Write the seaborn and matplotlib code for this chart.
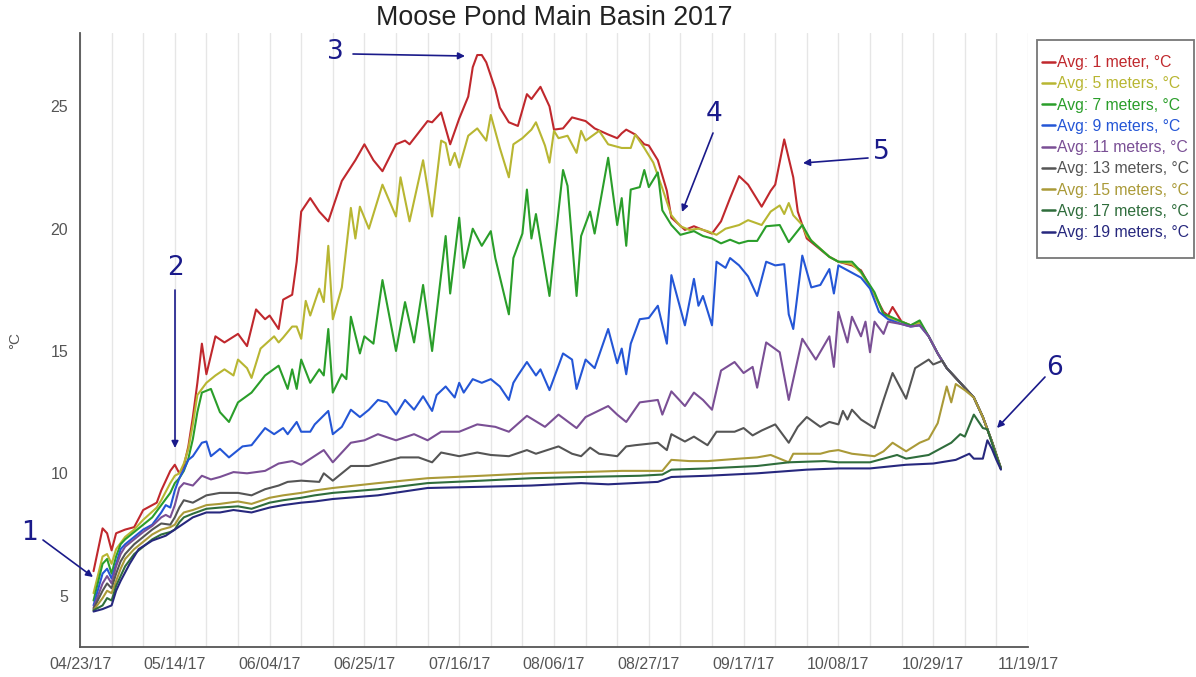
import pandas as pd
import numpy as np
import matplotlib
matplotlib.use("Agg")
import matplotlib.pyplot as plt
from matplotlib.lines import Line2D
from matplotlib.patches import Rectangle
import matplotlib.dates as mdates
import seaborn as sns

start = pd.Timestamp("2017-04-23")

# days after 04/23/17 and daily average temperature (°C) for each depth
d1 = [3,5,6,7,8,10,12,14,17,18,20,21,22,23,24,25,26,27,28,30,32,35,37,39,41,42,44,45,47,48,49,51,53,55,58,61,63,65,67,70,72,73,77,78,80,82,84,86,87,88,89,90,92,93,95,97,99,100,102,104,105,107,109,112,114,117,119,120,121,123,125,126,128,130,131,134,136,138,140,142,144,146,148,151,153,154,156,158,159,161,163,166,168,171,173,176,178,179,180,182,184,186,188,190,192,195,198,200,202,204]
t1 = [6.0,7.75,7.55,6.85,7.55,7.7,7.8,8.5,8.8,9.3,10.1,10.35,10.0,10.3,11.1,12.3,13.7,15.3,14.05,15.6,15.35,15.7,15.2,16.7,16.3,16.45,15.9,17.1,17.3,18.65,20.7,21.25,20.7,20.3,21.95,22.8,23.45,22.8,22.35,23.45,23.6,23.45,24.4,24.35,24.75,23.45,24.5,25.4,26.6,27.1,27.1,26.8,25.7,24.95,24.35,24.2,25.5,25.3,25.8,25.0,24.05,24.1,24.55,24.4,24.1,23.85,23.7,23.9,24.05,23.85,23.45,23.4,22.8,21.55,20.45,19.95,20.1,19.95,19.8,20.3,21.25,22.15,21.8,20.9,21.55,21.8,23.65,22.1,20.7,19.6,19.3,18.85,18.65,18.5,18.3,17.3,16.6,16.45,16.8,16.2,16.05,16.15,15.6,14.9,14.3,13.7,13.1,12.3,11.3,10.2]

d5 = [3,5,6,7,8,10,12,14,17,18,20,21,22,23,24,25,26,27,28,30,32,34,35,37,38,40,43,44,45,47,48,49,50,51,53,54,55,56,58,60,61,62,64,67,70,71,73,76,78,80,81,82,83,84,86,88,90,91,93,95,96,98,100,101,103,104,105,106,108,110,111,112,115,117,120,122,123,125,127,129,131,133,135,137,139,141,143,146,148,151,153,155,156,157,158,160,161,163,166,168,171,173,176,178,179,180,182,184,186,188,190,192,195,198,200,202,204]
t5 = [5.1,6.6,6.7,6.3,6.9,7.4,7.7,8.1,8.6,8.9,9.6,9.9,10.0,10.4,11.0,12.0,13.2,13.45,13.7,14.0,14.25,14.0,14.65,14.3,13.9,15.1,15.6,15.35,15.55,16.0,16.0,15.5,17.05,16.45,17.55,17.0,19.3,16.3,17.6,20.85,19.6,20.9,20.0,21.8,20.5,22.1,20.3,22.8,20.5,23.6,23.5,22.6,23.1,22.5,23.8,24.1,23.6,24.65,23.3,22.1,23.45,23.7,24.05,24.35,23.4,22.7,24.0,23.7,23.8,23.1,24.0,23.6,24.0,23.45,23.3,23.3,23.85,23.3,22.7,21.65,20.55,20.1,19.95,20.0,19.9,19.75,20.0,20.15,20.35,20.15,20.7,20.95,20.6,21.05,20.55,20.15,19.7,19.35,18.85,18.65,18.55,18.2,17.3,16.5,16.4,16.3,16.2,16.05,16.15,15.6,14.9,14.3,13.7,13.1,12.3,11.3,10.2]

d7 = [3,5,6,7,8,9,10,12,14,16,18,20,21,22,23,24,25,26,27,29,31,33,35,38,41,44,46,47,48,49,51,53,54,55,56,58,59,60,62,63,65,67,70,72,74,76,78,81,82,84,85,87,89,91,92,95,96,98,99,100,101,104,105,107,108,110,111,113,114,117,119,120,121,122,124,125,126,128,129,131,133,136,138,140,142,144,146,148,150,152,155,157,160,162,166,168,171,173,176,178,179,182,184,186,188,190,192,195,198,200,202,204]
t7 = [4.8,6.3,6.5,5.9,6.6,7.1,7.3,7.6,7.9,8.2,8.7,9.2,9.6,9.8,10.1,10.6,11.4,12.5,13.3,13.45,12.5,12.1,12.9,13.3,14.0,14.4,13.45,14.25,13.45,14.65,13.7,14.25,14.0,15.9,13.3,14.05,13.85,16.4,14.9,15.6,15.3,17.9,15.0,17.0,15.35,17.7,15.0,19.7,17.35,20.45,18.4,20.0,19.3,19.9,18.8,16.5,18.8,19.8,21.6,19.6,20.6,17.25,19.05,22.4,21.75,17.25,19.7,20.7,19.8,22.9,20.15,21.25,19.3,21.6,21.7,22.4,21.7,22.3,20.75,20.15,19.75,19.9,19.7,19.6,19.4,19.55,19.4,19.5,19.5,20.1,20.15,19.45,20.15,19.5,18.85,18.65,18.65,18.25,17.4,16.5,16.45,16.2,16.05,16.25,15.6,14.9,14.3,13.7,13.1,12.3,11.3,10.2]

d9 = [3,5,6,7,8,9,10,12,14,16,18,19,20,21,22,23,24,25,27,28,29,31,33,36,38,41,43,45,46,48,49,51,52,55,56,58,60,62,64,66,68,70,72,74,76,78,79,81,83,84,85,87,89,91,93,95,96,97,99,101,102,104,105,107,109,110,112,114,117,119,120,121,122,124,126,128,130,131,134,136,137,138,140,141,143,144,146,148,150,152,154,156,157,158,160,162,164,166,167,168,171,173,175,177,179,182,184,186,188,190,192,195,198,200,202,204]
t9 = [4.6,5.9,6.1,5.7,6.3,6.9,7.1,7.4,7.7,7.9,8.4,8.7,8.6,9.3,9.8,10.15,10.55,10.7,11.25,11.3,10.7,11.0,10.65,11.1,11.15,11.85,11.6,11.85,11.6,12.1,11.7,11.7,12.0,12.55,11.6,11.9,12.6,12.3,12.6,13.0,12.9,12.4,13.0,12.6,13.15,12.55,13.2,13.55,13.1,13.7,13.3,13.85,13.7,13.85,13.55,13.0,13.7,14.0,14.55,14.0,14.25,13.4,13.9,14.9,14.65,13.45,14.65,14.3,15.9,14.5,15.1,14.05,15.3,16.3,16.35,16.85,15.3,18.1,16.05,17.95,16.85,17.25,16.05,18.65,18.4,18.8,18.5,18.05,17.25,18.65,18.5,18.55,16.5,15.9,18.9,17.6,17.7,18.35,17.35,18.5,18.2,18.0,17.55,16.6,16.3,16.1,16.0,16.05,15.6,14.9,14.3,13.7,13.1,12.3,11.3,10.2]

d11 = [3,5,6,7,8,9,10,12,14,16,18,19,20,21,22,23,25,27,29,31,34,37,41,44,47,49,54,56,60,63,66,70,74,77,80,84,88,92,95,99,103,106,110,112,117,119,121,124,128,129,131,134,136,138,140,142,145,147,149,150,152,155,157,160,163,166,167,168,170,171,173,174,175,176,178,179,182,184,186,188,190,192,195,198,200,202,204]
t11 = [4.5,5.5,5.8,5.5,6.2,6.7,7.0,7.3,7.6,7.85,8.2,8.3,8.2,8.7,9.4,9.6,9.5,9.9,9.75,9.85,10.05,10.0,10.1,10.4,10.5,10.35,10.95,10.45,11.25,11.35,11.6,11.35,11.6,11.35,11.7,11.7,12.0,11.9,11.7,12.35,11.9,12.4,11.85,12.3,12.75,12.4,12.1,12.9,13.0,12.4,13.35,12.75,13.3,13.0,12.6,14.2,14.55,14.1,14.35,13.5,15.35,14.95,13.0,15.5,14.65,15.6,14.35,16.6,15.35,16.4,15.6,16.2,14.95,16.2,15.7,16.2,16.1,16.0,16.05,15.6,14.9,14.3,13.7,13.1,12.3,11.3,10.2]

d13 = [3,5,6,7,8,9,10,12,14,16,18,20,21,22,23,25,28,31,35,38,41,44,46,49,53,54,56,60,64,67,71,75,78,80,84,88,91,95,99,101,106,109,111,113,115,119,121,123,128,130,131,134,136,139,141,145,147,149,151,154,157,159,161,164,166,168,169,170,171,173,176,178,180,183,185,188,189,191,192,195,198,200,202,204]
t13 = [4.45,5.2,5.5,5.3,5.9,6.4,6.7,7.1,7.4,7.7,7.95,7.9,8.2,8.6,8.9,8.8,9.1,9.2,9.2,9.1,9.35,9.5,9.65,9.7,9.65,10.0,9.7,10.3,10.3,10.45,10.65,10.65,10.45,10.85,10.7,10.85,10.75,10.7,10.95,10.8,11.1,10.8,10.7,11.05,10.8,10.7,11.1,11.15,11.25,10.95,11.6,11.3,11.5,11.15,11.7,11.7,11.85,11.55,11.75,12.0,11.25,11.9,12.3,11.9,12.1,12.0,12.55,12.2,12.6,12.2,11.85,13.0,14.1,13.05,14.3,14.65,14.45,14.6,14.3,13.7,13.1,12.3,11.3,10.2]

d15 = [3,5,6,7,8,9,10,12,14,16,18,20,21,22,23,25,28,31,35,38,42,45,49,52,56,66,77,89,100,111,120,129,131,135,139,146,150,153,157,158,164,166,168,171,176,178,180,183,186,188,190,192,193,194,196,198,200,202,204]
t15 = [4.4,4.9,5.2,5.1,5.6,6.1,6.5,6.9,7.2,7.5,7.7,7.8,7.9,8.2,8.4,8.5,8.7,8.75,8.85,8.75,9.0,9.1,9.2,9.3,9.4,9.6,9.8,9.9,10.0,10.05,10.1,10.1,10.55,10.5,10.5,10.6,10.65,10.75,10.45,10.8,10.8,10.9,10.95,10.8,10.7,10.9,11.25,10.9,11.25,11.4,12.05,13.55,12.9,13.65,13.4,13.1,12.3,11.3,10.2]

d17 = [3,5,6,7,8,9,10,12,14,16,18,20,21,22,23,25,28,31,35,38,42,45,49,52,56,66,77,89,100,111,124,129,131,139,150,157,165,168,175,181,183,188,190,193,195,196,198,200,201,202,203,204]
t17 = [4.4,4.6,4.9,4.8,5.4,5.8,6.2,6.7,7.0,7.3,7.5,7.6,7.7,8.0,8.2,8.35,8.55,8.6,8.65,8.55,8.8,8.9,9.0,9.1,9.2,9.35,9.6,9.7,9.8,9.85,9.9,9.95,10.15,10.2,10.3,10.45,10.5,10.45,10.45,10.75,10.6,10.75,10.95,11.25,11.6,11.5,12.4,11.85,11.8,11.25,10.7,10.2]

d19 = [3,5,7,8,9,11,13,16,19,21,23,25,28,31,34,38,42,45,49,52,56,66,77,89,100,111,117,128,131,139,150,161,168,175,183,189,194,197,198,200,201,202,203,204]
t19 = [4.35,4.45,4.6,5.2,5.6,6.3,6.9,7.25,7.45,7.7,7.95,8.2,8.4,8.4,8.5,8.4,8.6,8.7,8.8,8.85,8.95,9.1,9.4,9.45,9.5,9.6,9.55,9.65,9.85,9.9,10.0,10.15,10.2,10.2,10.35,10.4,10.55,10.8,10.6,10.6,11.35,11.0,10.55,10.15]

labels = ["Avg: 1 meter, °C", "Avg: 5 meters, °C", "Avg: 7 meters, °C",
          "Avg: 9 meters, °C", "Avg: 11 meters, °C", "Avg: 13 meters, °C",
          "Avg: 15 meters, °C", "Avg: 17 meters, °C", "Avg: 19 meters, °C"]
colors = ["#c0282d", "#b8b632", "#2a9e2a", "#2456d6", "#7a4f95",
          "#555555", "#aa9a38", "#2f6d3c", "#27287e"]
series = [(d1, t1), (d5, t5), (d7, t7), (d9, t9), (d11, t11),
          (d13, t13), (d15, t15), (d17, t17), (d19, t19)]

frames = []
for lab, (d, t) in zip(labels, series):
    frames.append(pd.DataFrame({"date": start + pd.to_timedelta(d, unit="D"),
                                "temp": t, "depth": lab}))
df = pd.concat(frames, ignore_index=True)

sns.set_style("white")
plt.rcParams["font.family"] = ["Liberation Sans", "DejaVu Sans"]

W, H = 1196, 677
fig = plt.figure(figsize=(W / 100, H / 100), dpi=100)
ax = fig.add_axes([80 / W, 30 / H, (1028 - 80) / W, (647 - 33) / H])

sns.lineplot(data=df, x="date", y="temp", hue="depth", palette=dict(zip(labels, colors)),
             estimator=None, sort=False, linewidth=1.5, legend=False, ax=ax)

weeks = pd.date_range("2017-04-23", "2017-11-19", freq="7D")
ax.set_xlim(weeks[0], weeks[-1])
ax.set_xticks(weeks[::3])
ax.set_xticks(weeks, minor=True)
ax.xaxis.set_major_formatter(mdates.DateFormatter("%m/%d/%y"))
ax.set_ylim(2.9, 28.0)
ax.set_yticks([5, 10, 15, 20, 25])
ax.set_yticks(range(3, 29), minor=True)
ax.set_xlabel("")
ax.set_ylabel("")

ax.grid(True, axis="x", which="both", color="#e6e6e6", lw=1.0)
ax.set_axisbelow(True)
for s in ["top", "right"]:
    ax.spines[s].set_visible(False)
for s in ["left", "bottom"]:
    ax.spines[s].set_color("#555555")
    ax.spines[s].set_linewidth(1.3)
ax.tick_params(axis="both", which="both", direction="out", length=5, width=1.2,
               color="#555555", labelcolor="#555555", labelsize=11.5)
ax.tick_params(axis="x", pad=2)

fig.text(554 / W, 1 - 18 / H, "Moose Pond Main Basin 2017", ha="center", va="center",
         fontsize=19.3, color="#222222")
fig.text(15 / W, 1 - 340 / H, "°C", rotation=90, ha="center", va="center",
         fontsize=11, color="#555555")

# legend box drawn separately so it matches the reference frame size
handles = [Line2D([], [], color=c, lw=1.8) for c in colors]
leg = fig.legend(handles, labels, loc="upper left", bbox_to_anchor=(1042 / W, 1 - 55 / H),
                 fontsize=11.3, labelcolor="linecolor", frameon=False,
                 borderpad=0, labelspacing=0.4, handlelength=0.8,
                 handletextpad=0.15, borderaxespad=0)
fig.patches.append(Rectangle((1037 / W, 1 - 258 / H), 157 / W, 218 / H,
                             transform=fig.transFigure, fill=False,
                             edgecolor="#777777", lw=1.3))

navy = "#1a1a8a"
notes = [("1", (30, 533), (43, 540), (93, 577)),
         ("2", (175, 268), (175, 290), (175, 448)),
         ("3", (335, 52), (353, 54), (465, 56)),
         ("4", (714, 114), (713, 133), (682, 212)),
         ("5", (881, 152), (868, 158), (803, 163)),
         ("6", (1055, 368), (1045, 377), (997, 428))]
for num, txt, tail, head in notes:
    fig.text(txt[0] / W, 1 - txt[1] / H, num, ha="center", va="center",
             fontsize=19, color=navy, family="DejaVu Sans")
    ax.annotate("", xy=(head[0], H - head[1]), xytext=(tail[0], H - tail[1]),
                xycoords="figure pixels", textcoords="figure pixels",
                arrowprops=dict(arrowstyle="-|>", color=navy, lw=1.2,
                                mutation_scale=10, shrinkA=0, shrinkB=0))

fig.savefig("out.png", dpi=100)
